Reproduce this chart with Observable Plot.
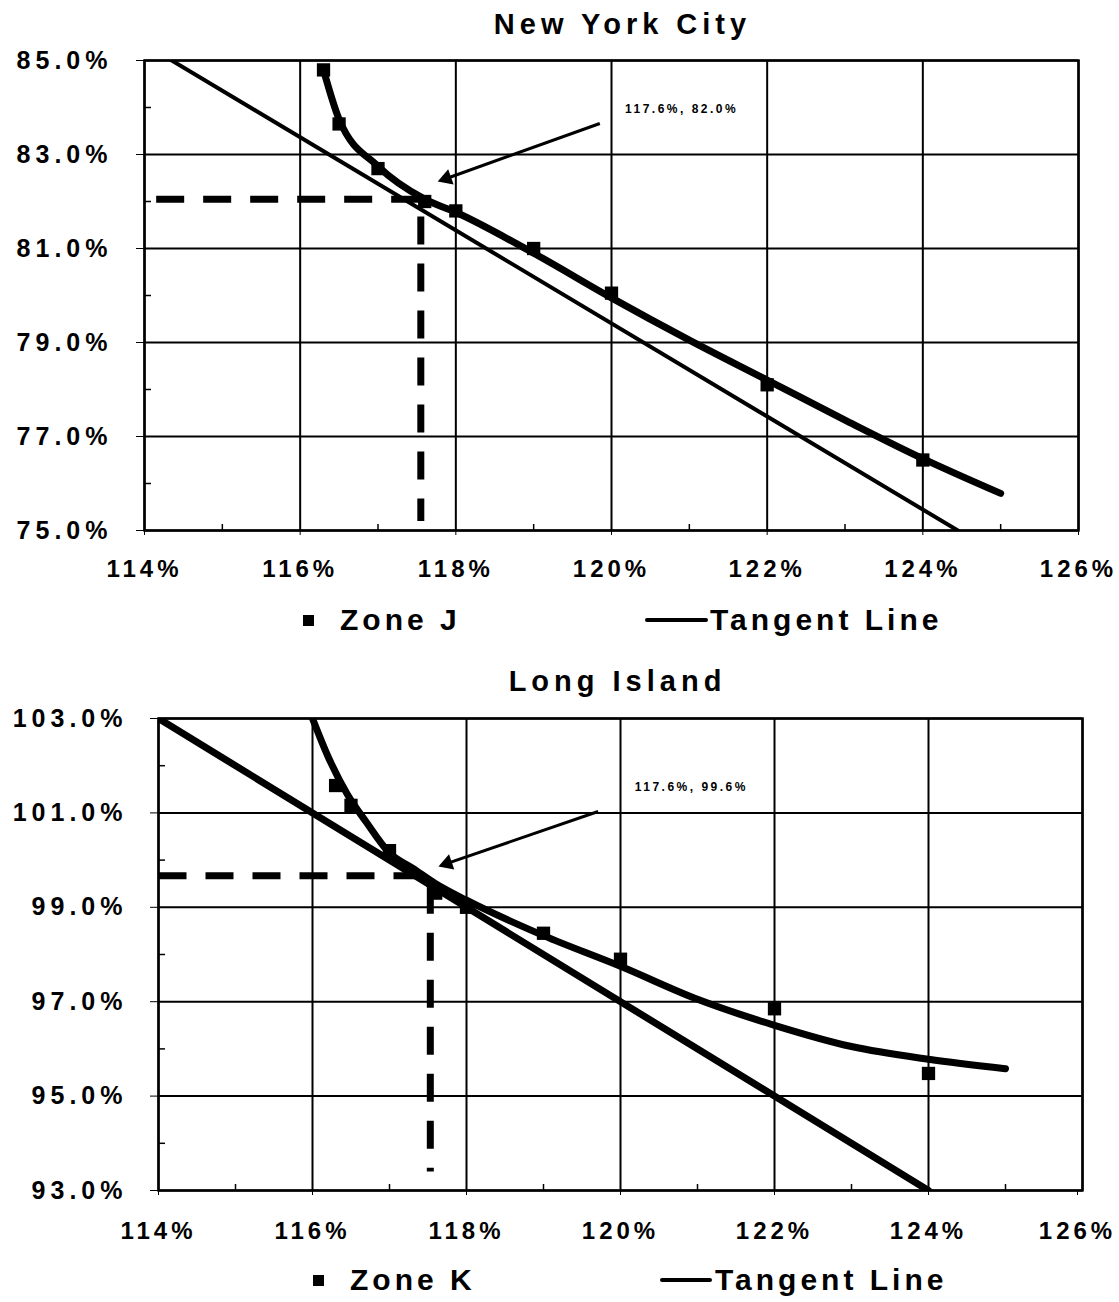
<!DOCTYPE html>
<html>
<head>
<meta charset="utf-8">
<script src="https://cdn.jsdelivr.net/npm/d3@7"></script>
<script src="https://cdn.jsdelivr.net/npm/@observablehq/plot@0.6"></script>
<style>
  body { margin: 0; background: #fff; }
  #wrap { position: relative; width: 1119px; height: 1302px; overflow: hidden;
          font-family: "Liberation Sans", Arial, sans-serif; font-weight: bold; color: #000; }
  .panel { position: absolute; left: 0; z-index: 1; }
  .title { position: absolute; z-index: 2; font-size: 29px; letter-spacing: 5px; line-height: 29px;
           transform: translateX(-50%); padding-left: 5px; white-space: nowrap; }
  .leg { position: absolute; z-index: 2; font-size: 30px; letter-spacing: 4px; line-height: 30px; white-space: nowrap; }
  .sq { position: absolute; z-index: 2; width: 11px; height: 11px; background: #000; }
  .ln { position: absolute; z-index: 2; height: 4px; background: #000; border-radius: 2px; }
  svg g[aria-label="x-axis tick label"] text { letter-spacing: 4px; }
  svg g[aria-label="y-axis tick label"] text { letter-spacing: 5px; }
  svg g[aria-label="text"] text { letter-spacing: 2.5px; }
</style>
</head>
<body>
<div id="wrap">
  <div id="top" class="panel" style="top:0px;"></div>
  <div id="bot" class="panel" style="top:650px;"></div>
  <div class="title" style="left:620px; top:10px;">New York City</div>
  <div class="title" style="left:615px; top:667px;">Long Island</div>

  <div class="sq" style="left:303px; top:615px;"></div>
  <div class="leg" style="left:340px; top:605px;">Zone J</div>
  <div class="ln" style="left:645px; top:618px; width:63px;"></div>
  <div class="leg" style="left:710px; top:605px;">Tangent Line</div>

  <div class="sq" style="left:313px; top:1275px;"></div>
  <div class="leg" style="left:350px; top:1265px;">Zone K</div>
  <div class="ln" style="left:660px; top:1278px; width:52px;"></div>
  <div class="leg" style="left:715px; top:1265px;">Tangent Line</div>
</div>
<script>
// ---- shared axis values ----
const xTicks = [114, 116, 118, 120, 122, 124, 126];
const xMinorTicks = [115, 117, 119, 121, 123, 125];

// ---- New York City (Zone J) ----
const nycYTicks = [75, 77, 79, 81, 83, 85];
const nycYMinor = [76, 78, 80, 82, 84];
const nycZoneX = [116.3, 116.5, 117.0, 117.6, 118.0, 119.0, 120.0, 122.0, 124.0];
const nycZoneY = [84.8, 83.65, 82.7, 82.0, 81.8, 81.0, 80.05, 78.1, 76.5];
const nycCurveX = [116.3, 116.5, 117.0, 117.6, 118.0, 119.0, 120.0, 121.0, 122.0, 123.0, 124.0, 125.0];
const nycCurveY = [84.8, 83.75, 82.75, 82.05, 81.77, 80.9, 79.95, 79.05, 78.2, 77.35, 76.53, 75.79];
const nycTangentX = [114.3, 124.45];
const nycTangentY = [85.05, 75.0];
const nycGuideX = [114.15, 117.55, 117.55];
const nycGuideY = [82.05, 82.05, 75.2];
const nycArrowX = [119.85, 117.88];
const nycArrowY = [83.66, 82.49];
const nycLabel = "117.6%, 82.0%";
const nycLabelX = 120.9;
const nycLabelY = 83.97;

// ---- Long Island (Zone K) ----
const liYTicks = [93, 95, 97, 99, 101, 103];
const liYMinor = [94, 96, 98, 100, 102];
const liZoneX = [116.3, 116.5, 117.0, 117.6, 118.0, 119.0, 120.0, 122.0, 124.0];
const liZoneY = [101.58, 101.16, 100.2, 99.3, 99.0, 98.45, 97.9, 96.85, 95.48];
const liCurveX = [116.0, 116.2, 116.45, 116.7, 117.0, 117.3, 117.6, 118.0, 119.0, 120.0, 121.0, 122.0, 123.0, 124.0, 125.0];
const liCurveY = [103.0, 102.2, 101.4, 100.8, 100.15, 99.83, 99.5, 99.15, 98.4, 97.75, 97.05, 96.5, 96.05, 95.78, 95.58];
const liTangentX = [114.0, 124.0];
const liTangentY = [103.0, 93.0];
const liGuideX = [114.0, 117.53, 117.53];
const liGuideY = [99.67, 99.67, 93.4];
const liArrowX = [119.71, 117.75];
const liArrowY = [101.03, 99.93];
const liLabel = "117.6%, 99.6%";
const liLabelX = 120.92;
const liLabelY = 101.55;

const pts = (xs, ys) => xs.map((x, i) => ({x, y: ys[i]}));

function panel(o) {
  const plotW = o.width - o.marginLeft - o.marginRight;
  const plotH = o.height - o.marginTop - o.marginBottom;
  const xD = [xTicks[0], xTicks[xTicks.length - 1]];
  const yD = [o.yTicks[0], o.yTicks[o.yTicks.length - 1]];
  // arrow head orientation from the scales' pixel ratios
  const kx = plotW / (xD[1] - xD[0]);
  const ky = plotH / (yD[1] - yD[0]);
  const dx = (o.arrowX[1] - o.arrowX[0]) * kx;
  const dy = -(o.arrowY[1] - o.arrowY[0]) * ky;
  const rot = Math.atan2(dx, -dy) * 180 / Math.PI;
  const arrow = [{x1: o.arrowX[0], y1: o.arrowY[0], x2: o.arrowX[1], y2: o.arrowY[1]}];
  const xMain = xTicks.slice(0, -1);
  const xLast = xTicks.slice(-1);
  return Plot.plot({
    width: o.width, height: o.height,
    marginLeft: o.marginLeft, marginRight: o.marginRight,
    marginTop: o.marginTop, marginBottom: o.marginBottom,
    x: {domain: xD, label: null},
    y: {domain: yD, label: null},
    style: {fontFamily: "'Liberation Sans', Arial, sans-serif", fontWeight: "bold",
            fontSize: "25px", color: "black", background: "white", overflow: "visible"},
    marks: [
      Plot.gridX(xTicks, {stroke: "black", strokeOpacity: 1, strokeWidth: 2}),
      Plot.gridY(o.yTicks, {stroke: "black", strokeOpacity: 1, strokeWidth: 2}),
      Plot.tickX(xMinorTicks, {stroke: "black", strokeWidth: 1.5, insetTop: plotH - 6}),
      Plot.tickY(o.yMinor, {stroke: "black", strokeWidth: 1.5, insetRight: plotW - 7}),
      Plot.frame({stroke: "black", strokeWidth: 2.5}),
      Plot.axisX(xMain, {tickSize: 5, tickPadding: o.xPad, tickFormat: d => d + "%",
                         fontSize: 24, label: null}),
      Plot.axisX(xLast, {tickSize: 5, tickPadding: o.xPad, tickFormat: d => d + "%",
                         fontSize: 24, label: null, dx: o.lastDx}),
      Plot.axisY(o.yTicks, {tickSize: 8, tickPadding: o.yPad, tickFormat: d => d.toFixed(1) + "%",
                            fontSize: 25, label: null}),
      Plot.line(pts(o.guideX, o.guideY), {x: "x", y: "y", stroke: "black", strokeWidth: 7,
                strokeDasharray: "28,19", strokeLinecap: "butt"}),
      Plot.line(pts(o.tangentX, o.tangentY), {x: "x", y: "y", stroke: "black",
                strokeWidth: o.tangentWidth, strokeLinecap: "round", clip: true}),
      Plot.line(pts(o.curveX, o.curveY), {x: "x", y: "y", stroke: "black", strokeWidth: 7,
                curve: "monotone-x", strokeLinecap: "round", clip: true}),
      Plot.dot(pts(o.zoneX, o.zoneY), {x: "x", y: "y", symbol: "square", r: 7.5, fill: "black"}),
      Plot.link(arrow, {x1: "x1", y1: "y1", x2: "x2", y2: "y2", stroke: "black", strokeWidth: 3}),
      Plot.dot(arrow, {x: "x2", y: "y2", symbol: "triangle", r: 6, fill: "black", rotate: rot}),
      Plot.text([{x: o.labelX, y: o.labelY, t: o.label}], {x: "x", y: "y", text: "t",
                 fontSize: 12, fontWeight: "bold", fill: "black"})
    ]
  });
}

document.getElementById("top").appendChild(panel({
  width: 1119, height: 590, marginLeft: 144, marginRight: 41, marginTop: 60, marginBottom: 60,
  xPad: 24, yPad: 24, lastDx: 0, yTicks: nycYTicks, yMinor: nycYMinor,
  zoneX: nycZoneX, zoneY: nycZoneY, curveX: nycCurveX, curveY: nycCurveY,
  tangentX: nycTangentX, tangentY: nycTangentY, tangentWidth: 4,
  guideX: nycGuideX, guideY: nycGuideY, arrowX: nycArrowX, arrowY: nycArrowY,
  label: nycLabel, labelX: nycLabelX, labelY: nycLabelY
}));

document.getElementById("bot").appendChild(panel({
  width: 1119, height: 600, marginLeft: 158, marginRight: 37, marginTop: 68, marginBottom: 60,
  xPad: 26, yPad: 23, lastDx: -5, yTicks: liYTicks, yMinor: liYMinor,
  zoneX: liZoneX, zoneY: liZoneY, curveX: liCurveX, curveY: liCurveY,
  tangentX: liTangentX, tangentY: liTangentY, tangentWidth: 7,
  guideX: liGuideX, guideY: liGuideY, arrowX: liArrowX, arrowY: liArrowY,
  label: liLabel, labelX: liLabelX, labelY: liLabelY
}));
</script>
</body>
</html>
